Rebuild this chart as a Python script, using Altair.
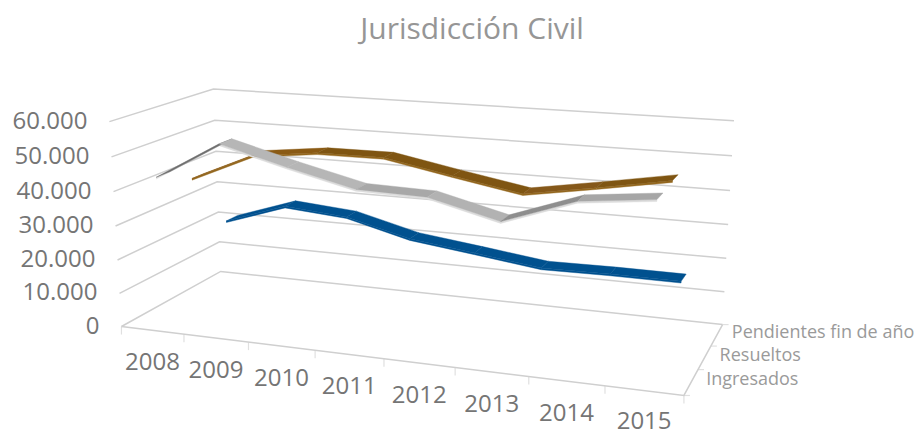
import altair as alt
import numpy as np
import pandas as pd

years = ["2008", "2009", "2010", "2011", "2012", "2013", "2014", "2015"]
series_names = ["Ingresados", "Resueltos", "Pendientes fin de año"]
ingresados = [43600, 54600, 49500, 44900, 44400, 39500, 46600, 48700]
resueltos = [39000, 47400, 49600, 49700, 46000, 42500, 45800, 49300]
pendientes = [21200, 27600, 26000, 21000, 18500, 15900, 16100, 16000]
y_ticks = [0, 10000, 20000, 30000, 40000, 50000, 60000]
y_tick_labels = ["0", "10.000", "20.000", "30.000", "40.000", "50.000", "60.000"]

# styles (per ribbon segment), back-to-front painting order below
blue_top = ["#00518f"] * 7
brown_top = ["#8a5a14", "#8a5a14", "#7f5512", "#7f5512", "#7f5512", "#85581a", "#7f5512"]
gray_top = ["#6e6e6e", "#b6b6b6", "#b6b6b6", "#a8a8a8", "#b2b2b2", "#8e8e8e", "#a6a6a6"]
edge = {"blue": "#00518f", "brown": "#94681f", "gray": "#dcdcdc"}

# camera of the 3-D box: box coordinates (category, depth, value/10000) -> pixel
cam_world = [(0,0,0),(8,0,0),(0,3,0),(8,3,0),(0,0,6),(0,3,6),(8,3,6),
             (2,0,0),(4,0,0),(6,0,0),(0,0,3),(0,3,3),(8,3,3)]
cam_pixel = [(122,326),(684,396),(220,272),(723,323),(110,121),(213,89),(734,121),
             (249,342),(384,359),(528,377),(114.5,226),(218,182),(728,225)]
A = []
for (X, Y, Z), (px, py) in zip(cam_world, cam_pixel):
    A.append([X, Y, Z, 1, 0, 0, 0, 0, -px*X, -px*Y, -px*Z, -px])
    A.append([0, 0, 0, 0, X, Y, Z, 1, -py*X, -py*Y, -py*Z, -py])
P = np.linalg.svd(np.array(A, float))[2][-1].reshape(3, 4)

def proj(u, d, v):
    q = P @ np.array([u, d, v, 1.0])
    return float(q[0] / q[2]), float(q[1] / q[2])

rows = []
def poly(name, pts, col):
    for p in pts:
        x, y = proj(*p)
        rows.append(dict(x=x, y=y, poly=name, col=col, k=len(rows)))

half = 0.19
thick = 0.05
def ribbon(name, vals, d, tops, edge_col):
    for i in range(7):
        u0, u1 = i + .5, i + 1.5
        v0, v1 = vals[i] / 1e4, vals[i + 1] / 1e4
        poly(f"{name}e{i}", [(u0, d-half, v0), (u1, d-half, v1), (u1, d-half, v1-thick), (u0, d-half, v0-thick)], edge_col)
    for i in range(7):
        u0, u1 = i + .5, i + 1.5
        v0, v1 = vals[i] / 1e4, vals[i + 1] / 1e4
        poly(f"{name}t{i}", [(u0, d-half, v0), (u1, d-half, v1), (u1, d+half, v1), (u0, d+half, v0), (u0, d-half, v0)], tops[i])

ribbon("blue", pendientes, 2.5, blue_top, edge["blue"])
ribbon("brown", resueltos, 1.5, brown_top, edge["brown"])
ribbon("gray", ingresados, 0.5, gray_top, edge["gray"])
ribbons_df = pd.DataFrame(rows)

rows = []
for t in y_ticks:
    v = t / 1e4
    poly(f"g{t}", [(0, 0, v), (0, 3, v), (8, 3, v)], "g")
poly("front", [(0, 0, 0), (8, 0, 0), (8, 3, 0)], "g")
grid_df = pd.DataFrame(rows)

rows = []
for i in range(9):
    x, y = proj(i, 0, 0)
    rows.append(dict(x=x, y=y, poly=f"t{i}", k=len(rows)))
    rows.append(dict(x=x, y=y + 8, poly=f"t{i}", k=len(rows)))
for i in range(4):
    x, y = proj(8, i, 0)
    rows.append(dict(x=x, y=y, poly=f"s{i}", k=len(rows)))
    rows.append(dict(x=x + 6, y=y, poly=f"s{i}", k=len(rows)))
tick_df = pd.DataFrame(rows)

xl = pd.DataFrame([dict(x=proj(i + .5, 0, 0)[0], y=min(proj(i + .5, 0, 0)[1] + 33, 421.5), t=years[i]) for i in range(8)])
yl = pd.DataFrame([dict(x=proj(0, 0, t / 1e4)[0] - 22, y=proj(0, 0, t / 1e4)[1], t=l) for t, l in zip(y_ticks, y_tick_labels)])
sl = pd.DataFrame([dict(x=proj(8, i + .5, 0)[0] + 15, y=proj(8, i + .5, 0)[1] - 2, t=series_names[i]) for i in range(3)])
tl = pd.DataFrame([dict(x=472, y=30, t="Jurisdicción Civil")])

X = alt.X("x:Q", scale=alt.Scale(domain=[8, 914], nice=False, zero=False), axis=None)
Y = alt.Y("y:Q", scale=alt.Scale(domain=[436, 8], nice=False, zero=False), axis=None)

grid = alt.Chart(grid_df).mark_line(color="#cfcfcf", strokeWidth=1.5, strokeJoin="miter").encode(
    x=X, y=Y, detail="poly:N", order="k:Q")
ticks = alt.Chart(tick_df).mark_line(color="#e0e0e0", strokeWidth=1.2).encode(
    x=X, y=Y, detail="poly:N", order="k:Q")
ribs = alt.Chart(ribbons_df).mark_line(strokeWidth=0.4).encode(
    x=X, y=Y, detail="poly:N", order="k:Q",
    fill=alt.Fill("col:N", scale=None), stroke=alt.Stroke("col:N", scale=None))

def label(df, size, col, align="center"):
    return alt.Chart(df).mark_text(font="Open Sans", fontSize=size, color=col, align=align, baseline="middle").encode(
        x=X, y=Y, text="t:N")

chart = alt.layer(
    ticks, grid, ribs,
    label(xl, 24, "#757575"),
    label(yl, 24, "#757575", "right"),
    label(sl, 18, "#9a9a9a", "left"),
    label(tl, 30, "#969696"),
).properties(width=906, height=428, padding=0, autosize=alt.AutoSizeParams(type="none")).configure_view(stroke=None)

chart.save("out.html", embed_options={"renderer": "svg", "actions": False})
